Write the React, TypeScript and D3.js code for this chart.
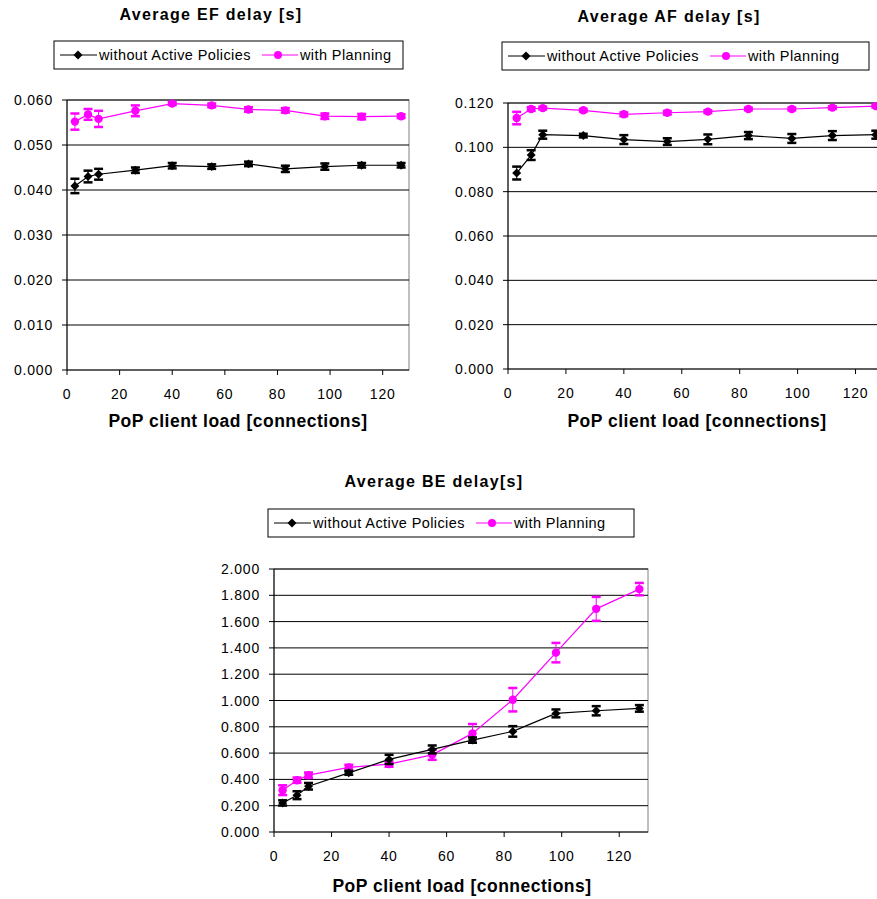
import React from 'react';
import * as d3 from 'd3';

// x positions (PoP client load)
const loads = [3, 8, 12, 26, 40, 55, 69, 83, 98, 112, 127];

// EF delay
const efWithout = [0.0409, 0.0430, 0.0435, 0.0444, 0.0454, 0.0452, 0.0458, 0.0447, 0.0452, 0.0455, 0.0455];
const efWithoutErr = [0.0016, 0.0013, 0.0012, 0.0006, 0.0006, 0.0005, 0.0005, 0.0007, 0.0007, 0.0005, 0.0005];
const efPlanning = [0.0552, 0.0568, 0.0558, 0.0576, 0.0592, 0.0588, 0.0579, 0.0577, 0.0564, 0.0563, 0.0564];
const efPlanningErr = [0.0018, 0.0012, 0.0018, 0.0012, 0.0003, 0.0004, 0.0005, 0.0005, 0.0006, 0.0006, 0.0004];

// AF delay
const afWithout = [0.0884, 0.0965, 0.1057, 0.1053, 0.1035, 0.1026, 0.1036, 0.1053, 0.1040, 0.1053, 0.1057];
const afWithoutErr = [0.0029, 0.0022, 0.0018, 0.0008, 0.0020, 0.0015, 0.0022, 0.0016, 0.0020, 0.0020, 0.0018];
const afPlanning = [0.1132, 0.1173, 0.1177, 0.1167, 0.1149, 0.1156, 0.1161, 0.1173, 0.1173, 0.1179, 0.1186];
const afPlanningErr = [0.0028, 0.0008, 0.0006, 0.0006, 0.0008, 0.0008, 0.0006, 0.0006, 0.0006, 0.0006, 0.0006];

// BE delay
const beWithout = [0.221, 0.280, 0.348, 0.450, 0.552, 0.628, 0.699, 0.765, 0.902, 0.922, 0.940];
const beWithoutErr = [0.020, 0.030, 0.025, 0.015, 0.035, 0.030, 0.020, 0.040, 0.030, 0.035, 0.025];
const bePlanning = [0.318, 0.394, 0.432, 0.491, 0.516, 0.587, 0.750, 1.006, 1.364, 1.697, 1.847];
const bePlanningErr = [0.037, 0.020, 0.020, 0.020, 0.020, 0.038, 0.071, 0.089, 0.074, 0.091, 0.047];

const xTicks = [0, 20, 40, 60, 80, 100, 120];
const seriesNames = ['without Active Policies', 'with Planning'];

const FONT = '"Liberation Sans", Arial, sans-serif';
const PINK = '#ff00ff';

type ChartProps = {
  title: string;
  titleX: number;
  titleY: number;
  plot: { left: number; top: number; right: number; bottom: number };
  yMax: number;
  yStep: number;
  without: number[];
  withoutErr: number[];
  planning: number[];
  planningErr: number[];
  legend: { x: number; y: number; w: number };
  axisTitleX: number;
  axisTitleY: number;
};

const Chart = (p: ChartProps) => {
  const { plot } = p;
  const x = d3.scaleLinear().domain([0, 130]).range([plot.left, plot.right]);
  const y = d3.scaleLinear().domain([0, p.yMax]).range([plot.bottom, plot.top]);
  const yTicks = d3.range(0, p.yMax + p.yStep / 2, p.yStep);
  const fmt = d3.format('.3f');
  const line = d3.line<number>().x((d, i) => x(loads[i])).y(d => y(d));
  const diamond = d3.symbol(d3.symbolSquare, 40)();
  const cap = 4.5;

  const errBars = (vals: number[], errs: number[], color: string) =>
    vals.map((v, i) => (
      <g key={i} stroke={color} strokeWidth={2.5}>
        <line x1={x(loads[i])} x2={x(loads[i])} y1={y(v - errs[i])} y2={y(v + errs[i])} strokeWidth={1} />
        <line x1={x(loads[i]) - cap} x2={x(loads[i]) + cap} y1={y(v - errs[i])} y2={y(v - errs[i])} />
        <line x1={x(loads[i]) - cap} x2={x(loads[i]) + cap} y1={y(v + errs[i])} y2={y(v + errs[i])} />
      </g>
    ));

  const lg = p.legend;
  return (
    <g fontFamily={FONT}>
      <text x={p.titleX} y={p.titleY} textAnchor="middle" fontSize={16} fontWeight="bold" letterSpacing={1.3}>
        {p.title}
      </text>
      {/* legend */}
      <rect x={lg.x} y={lg.y} width={lg.w} height={28} fill="white" stroke="#000" strokeWidth={1} />
      <line x1={lg.x + 6} x2={lg.x + 43} y1={lg.y + 14} y2={lg.y + 14} stroke="#000" />
      <path d={diamond!} transform={`translate(${lg.x + 24},${lg.y + 14}) rotate(45)`} fill="#000" />
      <text x={lg.x + 45} y={lg.y + 19} fontSize={14.5} letterSpacing={0.4}>{seriesNames[0]}</text>
      <line x1={lg.x + 208} x2={lg.x + 244} y1={lg.y + 14} y2={lg.y + 14} stroke={PINK} />
      <circle cx={lg.x + 224} cy={lg.y + 14} r={4} fill={PINK} />
      <text x={lg.x + 246} y={lg.y + 19} fontSize={14.5} letterSpacing={0.4}>{seriesNames[1]}</text>

      {/* plot area */}
      <rect x={plot.left} y={plot.top} width={plot.right - plot.left} height={plot.bottom - plot.top} fill="white" stroke="#808080" />
      {yTicks.map(t => (
        <g key={t}>
          {t > 0 && <line x1={plot.left} x2={plot.right} y1={y(t)} y2={y(t)} stroke="#000" strokeWidth={1} />}
          <line x1={plot.left - 5} x2={plot.left} y1={y(t)} y2={y(t)} stroke="#000" />
          <text x={plot.left - 14} y={y(t) + 5} textAnchor="end" fontSize={14} letterSpacing={0.8}>{fmt(t)}</text>
        </g>
      ))}
      <line x1={plot.left} x2={plot.left} y1={plot.top} y2={plot.bottom} stroke="#000" />
      <line x1={plot.left} x2={plot.right} y1={plot.bottom} y2={plot.bottom} stroke="#000" />
      {xTicks.map(t => (
        <g key={t}>
          <line x1={x(t)} x2={x(t)} y1={plot.bottom} y2={plot.bottom + 5} stroke="#000" />
          <text x={x(t)} y={plot.bottom + 29} textAnchor="middle" fontSize={14} letterSpacing={0.8}>{t}</text>
        </g>
      ))}

      {/* series */}
      {errBars(p.planning, p.planningErr, PINK)}
      <path d={line(p.planning)!} fill="none" stroke={PINK} strokeWidth={1.2} />
      {p.planning.map((v, i) => (
        <circle key={i} cx={x(loads[i])} cy={y(v)} r={4.2} fill={PINK} />
      ))}
      {errBars(p.without, p.withoutErr, '#000')}
      <path d={line(p.without)!} fill="none" stroke="#000" strokeWidth={1.2} />
      {p.without.map((v, i) => (
        <path key={i} d={diamond!} transform={`translate(${x(loads[i])},${y(v)}) rotate(45)`} fill="#000" />
      ))}

      <text x={p.axisTitleX} y={p.axisTitleY} textAnchor="middle" fontSize={17.5} fontWeight="bold" letterSpacing={0.5}>
        PoP client load [connections]
      </text>
    </g>
  );
};

const App = () => (
  <svg width={877} height={899} style={{ position: 'absolute', left: 0, top: 0, background: 'white' }}>
    <rect width={877} height={899} fill="white" />
    <Chart
      title="Average EF delay [s]"
      titleX={211}
      titleY={20}
      plot={{ left: 67, top: 100, right: 409, bottom: 370 }}
      yMax={0.06}
      yStep={0.01}
      without={efWithout}
      withoutErr={efWithoutErr}
      planning={efPlanning}
      planningErr={efPlanningErr}
      legend={{ x: 54, y: 41, w: 349 }}
      axisTitleX={238}
      axisTitleY={427}
    />
    <Chart
      title="Average AF delay [s]"
      titleX={669}
      titleY={22}
      plot={{ left: 508, top: 103, right: 884.5, bottom: 369 }}
      yMax={0.12}
      yStep={0.02}
      without={afWithout}
      withoutErr={afWithoutErr}
      planning={afPlanning}
      planningErr={afPlanningErr}
      legend={{ x: 502, y: 42, w: 367 }}
      axisTitleX={697}
      axisTitleY={427}
    />
    <Chart
      title="Average BE delay[s]"
      titleX={434}
      titleY={487}
      plot={{ left: 274, top: 569, right: 648, bottom: 832 }}
      yMax={2}
      yStep={0.2}
      without={beWithout}
      withoutErr={beWithoutErr}
      planning={bePlanning}
      planningErr={bePlanningErr}
      legend={{ x: 268, y: 509, w: 366 }}
      axisTitleX={462}
      axisTitleY={892}
    />
  </svg>
);

export default App;
